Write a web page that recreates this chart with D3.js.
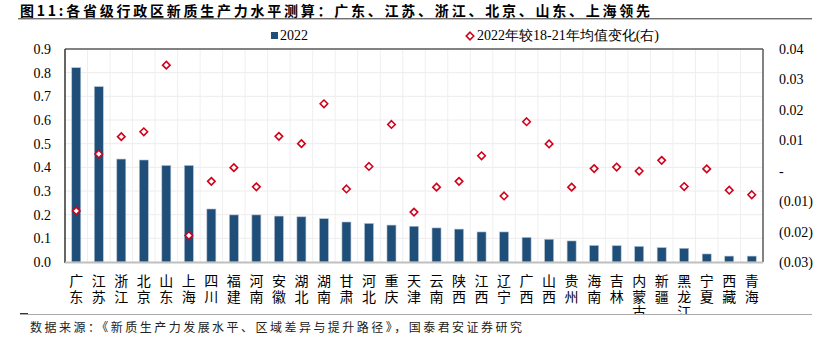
<!DOCTYPE html>
<html><head><meta charset="utf-8">
<script src="https://cdn.jsdelivr.net/npm/d3@7"></script>
<style>body{margin:0;background:#fff;}svg{display:block;}</style>
</head><body>
<svg id="c" width="822" height="341"></svg>
<script>
const provinces = ["广东","江苏","浙江","北京","山东","上海","四川","福建","河南","安徽","湖北","湖南","甘肃","河北","重庆","天津","云南","陕西","江西","辽宁","广西","山西","贵州","海南","吉林","内蒙古","新疆","黑龙江","宁夏","西藏","青海"];
const level2022 = [0.821,0.741,0.435,0.431,0.408,0.408,0.224,0.199,0.199,0.194,0.191,0.183,0.169,0.163,0.156,0.151,0.144,0.139,0.127,0.127,0.104,0.096,0.089,0.070,0.069,0.066,0.061,0.058,0.034,0.025,0.025];
const changeVsAvg = [-0.0132,0.0055,0.0112,0.0128,0.0347,-0.0213,-0.0035,0.0010,-0.0053,0.0113,0.0089,0.0220,-0.0060,0.0014,0.0152,-0.0136,-0.0054,-0.0035,0.0049,-0.0083,0.0161,0.0088,-0.0054,0.0007,0.0012,-0.0001,0.0034,-0.0052,0.0006,-0.0064,-0.0079];
const leftTicks = [0,0.1,0.2,0.3,0.4,0.5,0.6,0.7,0.8,0.9];
const rightTicks = [-0.03,-0.02,-0.01,0,0.01,0.02,0.03,0.04];
const titleText = "图11:各省级行政区新质生产力水平测算：广东、江苏、浙江、北京、山东、上海领先";
const sourceText = "数据来源：《新质生产力发展水平、区域差异与提升路径》，国泰君安证券研究";
const legendBar = "2022";
const legendPt = "2022年较18-21年均值变化(右)";

const svg = d3.select("#c");
const L = 65, R = 763, T = 49, B = 262;
const barColor = "#1f4e79", ptColor = "#d0021b";
const serif = "'Liberation Serif','Times New Roman',serif";
const cjk = "'Noto Sans CJK SC','Noto Sans',sans-serif";

const x = d3.scaleBand().domain(provinces).range([L, R]).paddingInner(0.6).paddingOuter(0.3);
const xc = d3.scaleBand().domain(provinces).range([L, R]);
const yL = d3.scaleLinear().domain([0, 0.9]).range([B, T]);
const yR = d3.scaleLinear().domain([-0.03, 0.04]).range([B, T]);

// title
svg.append("text").attr("x", 20).attr("y", 16.3).attr("font-family", cjk).attr("font-weight", "bold")
  .attr("font-size", 14).attr("fill", "#000")
  .attr("textLength", 630).attr("lengthAdjust", "spacing").text(titleText);
svg.append("line").attr("x1", 18).attr("x2", 812).attr("y1", 18.8).attr("y2", 18.8).attr("stroke", "#333").attr("stroke-width", 1);

// grid
const g = svg.append("g");
g.selectAll(".hg").data(leftTicks.slice(1, -1)).join("line")
  .attr("x1", L).attr("x2", R).attr("y1", d => yL(d)).attr("y2", d => yL(d))
  .attr("stroke", "#ececec").attr("stroke-width", 1);
g.selectAll(".vg").data(provinces.slice(1)).join("line")
  .attr("x1", d => xc(d)).attr("x2", d => xc(d)).attr("y1", T).attr("y2", B)
  .attr("stroke", "#efefef").attr("stroke-width", 1);

// bars
svg.append("g").selectAll("rect").data(provinces).join("rect")
  .attr("x", (d) => x(d)).attr("width", x.bandwidth())
  .attr("y", (d, i) => yL(level2022[i])).attr("height", (d, i) => B - yL(level2022[i]))
  .attr("fill", barColor).attr("stroke", "#b4c4d6").attr("stroke-width", 0.6);

// frame
svg.append("line").attr("x1", L).attr("x2", R).attr("y1", T).attr("y2", T).attr("stroke", "#595959").attr("stroke-width", 1.5);
svg.append("line").attr("x1", R).attr("x2", R).attr("y1", T).attr("y2", B).attr("stroke", "#595959").attr("stroke-width", 1.5);
svg.append("line").attr("x1", L).attr("x2", L).attr("y1", T).attr("y2", B + 1).attr("stroke", "#333").attr("stroke-width", 1.5);
svg.append("line").attr("x1", L).attr("x2", R).attr("y1", B + 0.5).attr("y2", B + 0.5).attr("stroke", "#bfbfbf").attr("stroke-width", 2);

// diamonds
const diamond = d3.symbol().type(d3.symbolDiamond2).size(36);
svg.append("g").selectAll("path").data(provinces).join("path")
  .attr("transform", (d, i) => `translate(${xc(d) + xc.bandwidth() / 2},${yR(changeVsAvg[i])})`)
  .attr("d", diamond).attr("fill", "#fff").attr("stroke", ptColor).attr("stroke-width", 1.6);

// left axis
const axL = svg.append("g").attr("transform", `translate(${L},0)`)
  .call(d3.axisLeft(yL).tickValues(leftTicks).tickFormat(d3.format(".1f")).tickSize(0).tickPadding(14));
axL.select(".domain").remove();
axL.selectAll("text").attr("font-family", serif).attr("font-size", 14).attr("fill", "#000");

// right axis
const fmtR = d => Math.abs(d) < 1e-9 ? "-" : (d < 0 ? "(" + d3.format(".2f")(-d) + ")" : d3.format(".2f")(d));
const axR = svg.append("g").attr("transform", `translate(${R},0)`)
  .call(d3.axisRight(yR).tickValues(rightTicks).tickFormat(fmtR).tickSize(0).tickPadding(16));
axR.select(".domain").remove();
axR.selectAll("text").attr("font-family", serif).attr("font-size", 14).attr("fill", "#000");

// x labels (vertical text)
svg.append("g").selectAll("text").data(provinces).join("text")
  .attr("x", d => xc(d) + xc.bandwidth() / 2).attr("y", 274)
  .attr("writing-mode", "vertical-rl")
  .style("writing-mode", "vertical-rl").style("text-orientation", "upright")
  .attr("letter-spacing", 1.2)
  .attr("font-family", cjk).attr("font-size", 14).attr("fill", "#000").text(d => d);
// cover for clipped third row
svg.append("rect").attr("x", 0).attr("y", 314).attr("width", 822).attr("height", 27).attr("fill", "#fff");

// legend
const lg = svg.append("g");
lg.append("rect").attr("x", 271).attr("y", 32).attr("width", 7).attr("height", 7).attr("fill", barColor);
lg.append("text").attr("x", 280).attr("y", 40).attr("font-family", serif).attr("font-size", 14).text(legendBar);
lg.append("path").attr("transform", "translate(470,36)").attr("d", diamond).attr("fill", "#fff").attr("stroke", ptColor).attr("stroke-width", 1.6);
lg.append("text").attr("x", 477).attr("y", 40).attr("font-family", serif).attr("font-size", 14).text(legendPt);

// footer
svg.append("line").attr("x1", 20).attr("x2", 812).attr("y1", 314.5).attr("y2", 314.5).attr("stroke", "#aaa").attr("stroke-width", 1);
svg.append("line").attr("x1", 20).attr("x2", 28).attr("y1", 313.5).attr("y2", 313.5).attr("stroke", "#333").attr("stroke-width", 1);
svg.append("text").attr("x", 30).attr("y", 332).attr("font-family", cjk).attr("font-size", 12).attr("fill", "#222")
  .attr("textLength", 492).attr("lengthAdjust", "spacing").text(sourceText);
</script>
</body></html>
